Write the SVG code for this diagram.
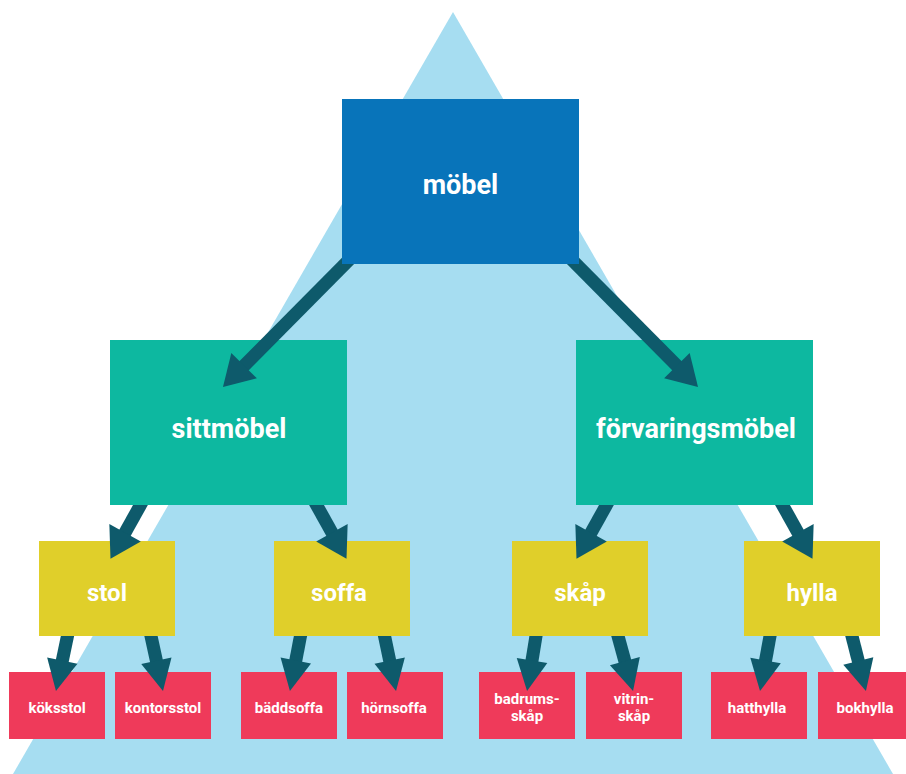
<svg xmlns="http://www.w3.org/2000/svg" width="906" height="774" viewBox="0 0 906 774">
<style>
.bg{fill:#a6ddf1}
.l0{fill:#0874ba}
.l1{fill:#0db8a0}
.l2{fill:#e0cf2a}
.l3{fill:#ef3a5a}
text{font-family:Roboto,"Liberation Sans",sans-serif;font-weight:700;fill:#ffffff;text-anchor:middle}
.t1{font-size:27px}
.t2{font-size:24px}
.t3{font-size:15px}
.c{stroke:#0e5a6b;stroke-width:13;fill:none}
.ah{fill:#0e5a6b}
</style>
<defs>
<marker id="headL" markerUnits="userSpaceOnUse" markerWidth="30" markerHeight="36" refX="2" refY="18" orient="auto" overflow="visible"><path class="ah" d="M0,0 L30,18 L0,36 Z"/></marker>
<marker id="headS" markerUnits="userSpaceOnUse" markerWidth="31" markerHeight="31" refX="2" refY="15.5" orient="auto" overflow="visible"><path class="ah" d="M0,0 L31,15.5 L0,31 Z"/></marker>
<clipPath id="xMobel"><path clip-rule="evenodd" d="M0 0H906V774H0Z M342 99H579V264H342Z"/></clipPath>
<clipPath id="xSitt"><path clip-rule="evenodd" d="M0 0H906V774H0Z M110 340H347V505H110Z"/></clipPath>
<clipPath id="xForv"><path clip-rule="evenodd" d="M0 0H906V774H0Z M576 340H813V505H576Z"/></clipPath>
<clipPath id="xStol"><path clip-rule="evenodd" d="M0 0H906V774H0Z M39 541H175V636H39Z"/></clipPath>
<clipPath id="xSoffa"><path clip-rule="evenodd" d="M0 0H906V774H0Z M274 541H410V636H274Z"/></clipPath>
<clipPath id="xSkap"><path clip-rule="evenodd" d="M0 0H906V774H0Z M512 541H648V636H512Z"/></clipPath>
<clipPath id="xHylla"><path clip-rule="evenodd" d="M0 0H906V774H0Z M744 541H880V636H744Z"/></clipPath>
</defs>
<polygon class="bg" points="453,12 893,774 13,774"/>
<g id="mobel"><rect class="l0" x="342" y="99" width="237" height="165"/><text class="t1" x="460.5" y="194">möbel</text></g>
<g id="sittmobel"><rect class="l1" x="110" y="340" width="237" height="165"/><text class="t1" x="229" y="438">sittmöbel</text></g>
<g id="forvaringsmobel"><rect class="l1" x="576" y="340" width="237" height="165"/><text class="t1" x="696" y="438">förvaringsmöbel</text></g>
<g id="stol"><rect class="l2" x="39" y="541" width="136" height="95"/><text class="t2" x="107" y="601">stol</text></g>
<g id="soffa"><rect class="l2" x="274" y="541" width="136" height="95"/><text class="t2" x="339" y="601">soffa</text></g>
<g id="skap"><rect class="l2" x="512" y="541" width="136" height="95"/><text class="t2" x="580" y="601">skåp</text></g>
<g id="hylla"><rect class="l2" x="744" y="541" width="136" height="95"/><text class="t2" x="812" y="601">hylla</text></g>
<g id="koksstol"><rect class="l3" x="9" y="672" width="96" height="67"/><text class="t3" x="57" y="713">köksstol</text></g>
<g id="kontorsstol"><rect class="l3" x="115" y="672" width="96" height="67"/><text class="t3" x="163" y="713">kontorsstol</text></g>
<g id="baddsoffa"><rect class="l3" x="241" y="672" width="96" height="67"/><text class="t3" x="289" y="713">bäddsoffa</text></g>
<g id="hornsoffa"><rect class="l3" x="347" y="672" width="96" height="67"/><text class="t3" x="394" y="713">hörnsoffa</text></g>
<g id="badrumsskap"><rect class="l3" x="479" y="672" width="96" height="67"/><text class="t3" x="527" y="704">badrums-</text><text class="t3" x="527" y="721">skåp</text></g>
<g id="vitrinskap"><rect class="l3" x="586" y="672" width="96" height="67"/><text class="t3" x="634" y="704">vitrin-</text><text class="t3" x="634" y="721">skåp</text></g>
<g id="hatthylla"><rect class="l3" x="711" y="672" width="96" height="67"/><text class="t3" x="757" y="713">hatthylla</text></g>
<g id="bokhylla"><rect class="l3" x="818" y="672" width="96" height="67"/><text class="t3" x="865" y="713">bokhylla</text></g>
<g id="connectors">
<line class="c" clip-path="url(#xMobel)" x1="363.8" y1="245" x2="242.7" y2="367.1" marker-end="url(#headL)"/>
<line class="c" clip-path="url(#xMobel)" x1="557.2" y1="245" x2="678.3" y2="367.1" marker-end="url(#headL)"/>
<line class="c" clip-path="url(#xSitt)" x1="159.6" y1="470.6" x2="124.1" y2="534.4" marker-end="url(#headL)"/>
<line class="c" clip-path="url(#xSitt)" x1="297.4" y1="470.6" x2="332.9" y2="534.4" marker-end="url(#headL)"/>
<line class="c" clip-path="url(#xForv)" x1="625.6" y1="470.6" x2="590.1" y2="534.4" marker-end="url(#headL)"/>
<line class="c" clip-path="url(#xForv)" x1="763.4" y1="470.6" x2="798.9" y2="534.4" marker-end="url(#headL)"/>
<line class="c" clip-path="url(#xStol)" x1="74.4" y1="602.9" x2="61.9" y2="662.6" marker-end="url(#headS)"/>
<line class="c" clip-path="url(#xStol)" x1="143.8" y1="603.1" x2="156.8" y2="662.7" marker-end="url(#headS)"/>
<line class="c" clip-path="url(#xSoffa)" x1="306.9" y1="602.6" x2="295.4" y2="662.5" marker-end="url(#headS)"/>
<line class="c" clip-path="url(#xSoffa)" x1="377.6" y1="602.9" x2="390.1" y2="662.6" marker-end="url(#headS)"/>
<line class="c" clip-path="url(#xSkap)" x1="541.5" y1="602.2" x2="531.7" y2="662.4" marker-end="url(#headS)"/>
<line class="c" clip-path="url(#xSkap)" x1="609.3" y1="604.2" x2="625.4" y2="663" marker-end="url(#headS)"/>
<line class="c" clip-path="url(#xHylla)" x1="776.1" y1="602.4" x2="765.2" y2="662.5" marker-end="url(#headS)"/>
<line class="c" clip-path="url(#xHylla)" x1="843.8" y1="603.8" x2="858.8" y2="662.9" marker-end="url(#headS)"/>
</g>
</svg>
